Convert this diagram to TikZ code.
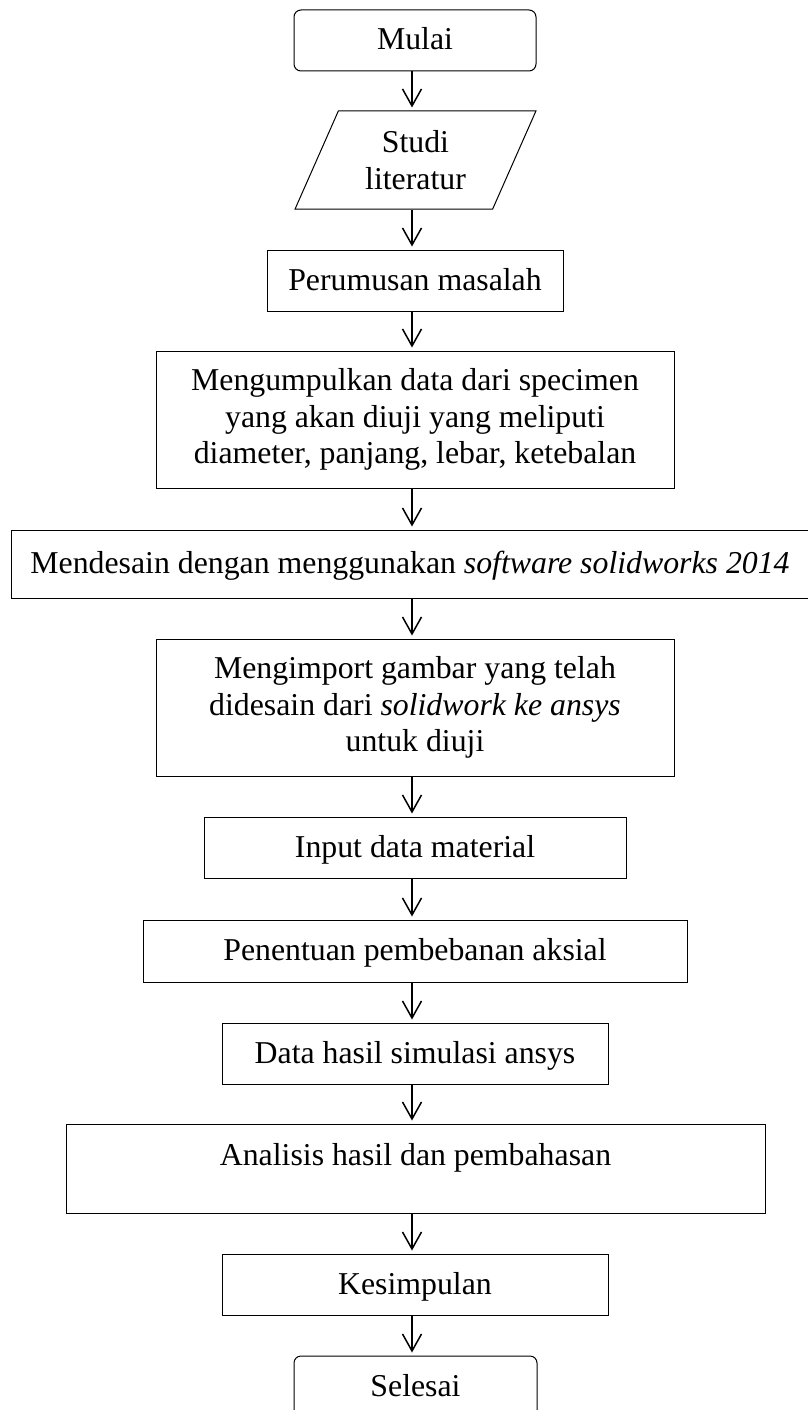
\documentclass[tikz,border=0pt]{standalone}
\usepackage{fontspec}
\setmainfont{Liberation Serif}
\usetikzlibrary{arrows.meta,shapes.geometric}
\begin{document}
\begin{tikzpicture}[x=1pt,y=-1pt,
  box/.style={draw, line width=1pt, inner sep=0pt, font=\fontsize{31.8}{36.5}\selectfont, align=center},
  single/.style={text height=22pt, text depth=3pt},
  term/.style={box, single, rounded corners=7pt},
  io/.style={box, trapezium, trapezium left angle=64.4, trapezium right angle=115.6, trapezium stretches=true},
  arr/.style={line width=1.5pt, -{Straight Barb[length=17pt,width=19pt,line width=1.5pt]}, shorten >=3pt}
]
\useasboundingbox (0,0) rectangle (808,1410);
\clip (0,0) rectangle (808,1410);
\coordinate (sp) at (412,0);

\node[term, minimum width=242pt, minimum height=61pt] (mulai) at (415,40.5) {Mulai};
\node[io, minimum width=241pt, minimum height=98pt] (studi) at (415.5,160) {Studi\\literatur};
\node[box, single, minimum width=296pt, minimum height=61pt] (rumus) at (415,280.5) {Perumusan masalah};
\node[box, minimum width=518pt, minimum height=137pt] (kumpul) at (415,419.5) {Mengumpulkan data dari specimen\\yang akan diuji yang meliputi\\diameter, panjang, lebar, ketebalan};
\node[box, single, minimum width=798pt, minimum height=68pt] (desain) at (410,564) {Mendesain dengan menggunakan \textit{software solidworks 2014}};
\node[box, minimum width=518pt, minimum height=137pt] (import) at (415,707.5) {Mengimport gambar yang telah\\didesain dari \textit{solidwork ke ansys}\\untuk diuji};
\node[box, single, minimum width=422pt, minimum height=61pt] (input) at (415,847.5) {Input data material};
\node[box, single, minimum width=544pt, minimum height=62pt] (tentu) at (415,951) {Penentuan pembebanan aksial};
\node[box, single, minimum width=386pt, minimum height=61pt] (hasil) at (415,1053.5) {Data hasil simulasi ansys};
\node[box, text height=21pt, text depth=28pt, minimum width=699pt, minimum height=89pt] (analisis) at (415.5,1168.5) {Analisis hasil dan pembahasan};
\node[box, single, minimum width=386pt, minimum height=61pt] (simpul) at (415,1284.5) {Kesimpulan};
\node[term, minimum width=243pt, minimum height=61pt] (selesai) at (415.5,1386.5) {Selesai};

\draw[arr] (mulai.south -| sp) -- (studi.north -| sp);
\draw[arr] (studi.south -| sp) -- (rumus.north -| sp);
\draw[arr] (rumus.south -| sp) -- (kumpul.north -| sp);
\draw[arr] (kumpul.south -| sp) -- (desain.north -| sp);
\draw[arr] (desain.south -| sp) -- (import.north -| sp);
\draw[arr] (import.south -| sp) -- (input.north -| sp);
\draw[arr] (input.south -| sp) -- (tentu.north -| sp);
\draw[arr] (tentu.south -| sp) -- (hasil.north -| sp);
\draw[arr] (hasil.south -| sp) -- (analisis.north -| sp);
\draw[arr] (analisis.south -| sp) -- (simpul.north -| sp);
\draw[arr] (simpul.south -| sp) -- (selesai.north -| sp);
\end{tikzpicture}
\end{document}
